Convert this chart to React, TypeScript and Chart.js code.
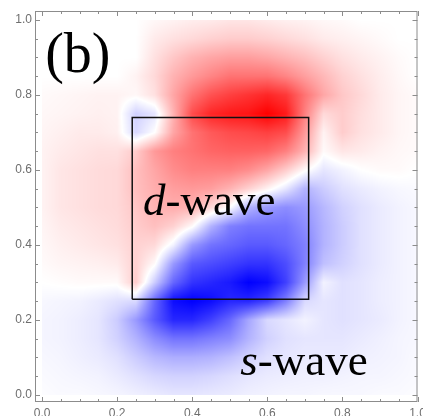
import React, { useEffect, useRef } from "react";
import { Chart, registerables } from "chart.js";

Chart.register(...registerables);

// grid coordinates of the density samples
const gridX = [0, 0.05, 0.1, 0.15, 0.2, 0.25, 0.3, 0.35, 0.4, 0.45, 0.5, 0.55, 0.6, 0.65, 0.7, 0.75, 0.8, 0.85, 0.9, 0.95, 1.0];
const gridY = [1.0, 0.95, 0.9, 0.85, 0.8, 0.75, 0.7, 0.65, 0.6, 0.55, 0.5, 0.45, 0.4, 0.35, 0.3, 0.25, 0.2, 0.15, 0.1, 0.05, 0.0];

// density values (+ red, - blue), rows from y = 1.0 down to y = 0.0
const row100 = [0, 0, 0, 0, 0, 0, 0.03, 0.05, 0.07, 0.08, 0.1, 0.1, 0.08, 0.06, 0.05, 0.03, 0.02, 0, 0, 0, 0];
const row095 = [0, 0, 0, 0, 0, 0, 0.08, 0.12, 0.15, 0.18, 0.2, 0.2, 0.18, 0.15, 0.12, 0.08, 0.06, 0.04, 0.02, 0, 0];
const row090 = [0, 0, 0, 0, 0, 0, 0.12, 0.22, 0.3, 0.35, 0.38, 0.38, 0.35, 0.3, 0.25, 0.18, 0.12, 0.08, 0.05, 0.02, 0];
const row085 = [0, 0, 0, 0, 0, 0.05, 0.15, 0.3, 0.4, 0.48, 0.55, 0.55, 0.55, 0.48, 0.38, 0.28, 0.18, 0.12, 0.07, 0.03, 0];
const row080 = [0.02, 0.03, 0.04, 0.05, 0.05, 0.03, 0.12, 0.35, 0.55, 0.68, 0.75, 0.8, 0.85, 0.78, 0.55, 0.35, 0.22, 0.15, 0.08, 0.04, 0.02];
const row075 = [0.03, 0.04, 0.05, 0.06, 0.05, -0.18, -0.1, 0.3, 0.7, 0.85, 0.9, 0.92, 1.0, 0.9, 0.5, 0.15, 0.2, 0.13, 0.08, 0.04, 0.02];
const row070 = [0.04, 0.06, 0.08, 0.08, 0.06, -0.15, 0.0, 0.35, 0.55, 0.65, 0.7, 0.72, 0.75, 0.7, 0.4, 0.05, 0.2, 0.12, 0.08, 0.04, 0.02];
const row065 = [0.05, 0.08, 0.1, 0.12, 0.12, 0.2, 0.4, 0.5, 0.55, 0.6, 0.62, 0.62, 0.6, 0.5, 0.3, 0.02, 0.1, 0.08, 0.05, 0.03, 0.02];
const row060 = [0.05, 0.1, 0.12, 0.14, 0.15, 0.25, 0.35, 0.45, 0.5, 0.5, 0.5, 0.45, 0.35, 0.2, 0.02, -0.1, -0.05, 0, 0.02, 0.02, 0];
const row055 = [0.05, 0.1, 0.12, 0.14, 0.15, 0.25, 0.32, 0.38, 0.4, 0.38, 0.3, 0.18, 0.05, -0.1, -0.3, -0.2, -0.12, -0.08, -0.05, -0.03, -0.02];
const row050 = [0.05, 0.1, 0.12, 0.14, 0.15, 0.22, 0.3, 0.32, 0.3, 0.15, 0.0, -0.3, -0.4, -0.45, -0.4, -0.28, -0.18, -0.12, -0.08, -0.05, -0.03];
const row045 = [0.04, 0.08, 0.1, 0.12, 0.14, 0.2, 0.25, 0.18, 0.02, -0.3, -0.5, -0.55, -0.55, -0.55, -0.45, -0.3, -0.2, -0.12, -0.08, -0.05, -0.03];
const row040 = [0.03, 0.06, 0.08, 0.1, 0.12, 0.18, 0.15, -0.05, -0.4, -0.55, -0.6, -0.65, -0.65, -0.6, -0.5, -0.3, -0.2, -0.12, -0.08, -0.05, -0.03];
const row035 = [0.02, 0.04, 0.05, 0.06, 0.08, 0.18, 0.02, -0.4, -0.65, -0.7, -0.75, -0.8, -0.8, -0.7, -0.5, -0.25, -0.18, -0.12, -0.08, -0.05, -0.03];
const row030 = [0, 0.01, 0.02, 0.02, 0.02, 0.2, -0.2, -0.6, -0.8, -0.85, -0.9, -1.0, -0.95, -0.75, -0.4, -0.05, -0.12, -0.1, -0.07, -0.05, -0.03];
const row025 = [-0.03, -0.04, -0.05, -0.08, -0.12, -0.15, -0.6, -0.95, -1.0, -0.95, -0.85, -0.85, -0.75, -0.5, -0.15, -0.1, -0.12, -0.1, -0.07, -0.05, -0.03];
const row020 = [-0.04, -0.05, -0.07, -0.1, -0.2, -0.4, -0.65, -0.85, -0.85, -0.75, -0.6, -0.35, -0.15, -0.1, -0.05, -0.1, -0.12, -0.1, -0.08, -0.05, -0.03];
const row015 = [-0.04, -0.05, -0.07, -0.1, -0.18, -0.3, -0.45, -0.55, -0.55, -0.5, -0.45, -0.3, -0.18, -0.12, -0.1, -0.1, -0.1, -0.08, -0.06, -0.04, -0.03];
const row010 = [-0.03, -0.04, -0.06, -0.08, -0.12, -0.2, -0.28, -0.32, -0.32, -0.3, -0.25, -0.18, -0.12, -0.1, -0.08, -0.08, -0.08, -0.06, -0.05, -0.04, -0.02];
const row005 = [-0.02, -0.03, -0.04, -0.05, -0.08, -0.12, -0.16, -0.18, -0.18, -0.16, -0.13, -0.1, -0.08, -0.07, -0.06, -0.06, -0.05, -0.04, -0.04, -0.03, -0.02];
const row000 = [-0.01, -0.02, -0.02, -0.03, -0.04, -0.06, -0.08, -0.1, -0.1, -0.09, -0.08, -0.06, -0.05, -0.04, -0.04, -0.03, -0.03, -0.03, -0.02, -0.02, -0.01];

const densityRows = [
  row100, row095, row090, row085, row080, row075, row070, row065, row060, row055, row050,
  row045, row040, row035, row030, row025, row020, row015, row010, row005, row000,
];

// axis ticks
const majorTicks = [0, 0.2, 0.4, 0.6, 0.8, 1.0];
const minorTicks = [0.05, 0.1, 0.15, 0.25, 0.3, 0.35, 0.45, 0.5, 0.55, 0.65, 0.7, 0.75, 0.85, 0.9, 0.95];

// d-wave box outline
const boxX = [0.24, 0.71, 0.71, 0.24, 0.24];
const boxY = [0.255, 0.255, 0.74, 0.74, 0.255];

const SERIF = "'Liberation Serif', 'Times New Roman', serif";
const SANS = "'Liberation Sans', Arial, sans-serif";

function sample(x: number, y: number): number {
  const nx = gridX.length;
  const ny = gridY.length;
  let i = 0;
  while (i < nx - 2 && x > gridX[i + 1]) i++;
  let j = 0;
  while (j < ny - 2 && y < gridY[j + 1]) j++;
  const tx = Math.min(1, Math.max(0, (x - gridX[i]) / (gridX[i + 1] - gridX[i])));
  const ty = Math.min(1, Math.max(0, (gridY[j] - y) / (gridY[j] - gridY[j + 1])));
  const a = densityRows[j][i];
  const b = densityRows[j][i + 1];
  const c = densityRows[j + 1][i];
  const d = densityRows[j + 1][i + 1];
  return a * (1 - tx) * (1 - ty) + b * tx * (1 - ty) + c * (1 - tx) * ty + d * tx * ty;
}

const heatmapPlugin = {
  id: "heatmap",
  beforeDatasetsDraw(chart: any) {
    const xs = chart.scales.x;
    const ys = chart.scales.y;
    const left = Math.round(xs.getPixelForValue(gridX[0]));
    const right = Math.round(xs.getPixelForValue(gridX[gridX.length - 1]));
    const top = Math.round(ys.getPixelForValue(gridY[0]));
    const bottom = Math.round(ys.getPixelForValue(gridY[gridY.length - 1]));
    const w = right - left;
    const h = bottom - top;
    if (w <= 0 || h <= 0) return;
    const off = document.createElement("canvas");
    off.width = w;
    off.height = h;
    const octx = off.getContext("2d")!;
    const img = octx.createImageData(w, h);
    for (let py = 0; py < h; py++) {
      const vy = ys.getValueForPixel(top + py + 0.5);
      for (let px = 0; px < w; px++) {
        const vx = xs.getValueForPixel(left + px + 0.5);
        let v = sample(vx, vy);
        v = Math.max(-1, Math.min(1, v));
        let r = 255, g = 255, b = 255;
        if (v >= 0) {
          g = b = 255 * (1 - v);
        } else {
          r = g = 255 * (1 + v);
        }
        const k = (py * w + px) * 4;
        img.data[k] = r;
        img.data[k + 1] = g;
        img.data[k + 2] = b;
        img.data[k + 3] = 255;
      }
    }
    octx.putImageData(img, 0, 0);
    chart.ctx.drawImage(off, left, top);
  },
};

const framePlugin = {
  id: "frame",
  afterDraw(chart: any) {
    const { ctx, chartArea } = chart;
    const xs = chart.scales.x;
    const ys = chart.scales.y;
    ctx.save();
    ctx.strokeStyle = "#8c8c8c";
    ctx.lineWidth = 1;
    ctx.strokeRect(chartArea.left + 0.5, chartArea.top + 0.5, chartArea.right - chartArea.left - 1, chartArea.bottom - chartArea.top - 1);
    const drawTicks = (vals: number[], len: number) => {
      ctx.beginPath();
      vals.forEach((v) => {
        const px = Math.round(xs.getPixelForValue(v)) + 0.5;
        ctx.moveTo(px, chartArea.bottom);
        ctx.lineTo(px, chartArea.bottom - len);
        ctx.moveTo(px, chartArea.top);
        ctx.lineTo(px, chartArea.top + len);
        const py = Math.round(ys.getPixelForValue(v)) + 0.5;
        ctx.moveTo(chartArea.left, py);
        ctx.lineTo(chartArea.left + len, py);
        ctx.moveTo(chartArea.right, py);
        ctx.lineTo(chartArea.right - len, py);
      });
      ctx.stroke();
    };
    drawTicks(majorTicks, 5);
    drawTicks(minorTicks, 3);
    ctx.restore();
  },
};

const textPlugin = {
  id: "texts",
  afterDatasetsDraw(chart: any) {
    const { ctx } = chart;
    const xs = chart.scales.x;
    const ys = chart.scales.y;
    ctx.save();
    ctx.fillStyle = "#000";
    ctx.textBaseline = "alphabetic";
    ctx.textAlign = "left";

    ctx.font = `56px ${SERIF}`;
    ctx.fillText("(b)", xs.getPixelForValue(0.008), ys.getPixelForValue(0.861));

    let x0 = xs.getPixelForValue(0.269);
    let y0 = ys.getPixelForValue(0.48);
    ctx.font = `italic 45px ${SERIF}`;
    ctx.fillText("d", x0, y0);
    x0 += ctx.measureText("d").width;
    ctx.font = `45px ${SERIF}`;
    ctx.fillText("-wave", x0, y0);

    x0 = xs.getPixelForValue(0.528);
    y0 = ys.getPixelForValue(0.053);
    ctx.font = `italic 45px ${SERIF}`;
    ctx.fillText("s", x0, y0);
    x0 += ctx.measureText("s").width;
    ctx.font = `45px ${SERIF}`;
    ctx.fillText("-wave", x0, y0);
    ctx.restore();
  },
};

export default function App() {
  const ref = useRef<HTMLCanvasElement>(null);
  useEffect(() => {
    document.body.style.margin = "0";
    const canvas = ref.current;
    if (!canvas) return;
    const chart = new Chart(canvas, {
      type: "scatter",
      data: {
        datasets: [
          {
            label: "d-wave region",
            data: boxX.map((x, i) => ({ x, y: boxY[i] })),
            showLine: true,
            borderColor: "#111",
            borderWidth: 1.5,
            pointRadius: 0,
            fill: false,
          },
        ],
      },
      options: {
        animation: false,
        responsive: false,
        devicePixelRatio: 1,
        layout: { padding: { top: 11, right: 5.5, left: 0, bottom: 0 } },
        plugins: { legend: { display: false }, tooltip: { enabled: false } },
        scales: {
          x: {
            type: "linear",
            min: -0.019,
            max: 1.0,
            afterBuildTicks: (s: any) => {
              s.ticks = majorTicks.map((v) => ({ value: v }));
            },
            afterFit: (s: any) => {
              s.height = 14;
              s.paddingLeft = 0;
              s.paddingRight = 0;
            },
            grid: { display: false, drawTicks: false },
            border: { display: false },
            ticks: {
              autoSkip: false,
              maxRotation: 0,
              padding: 4,
              color: "#6e6e6e",
              font: { family: SANS, size: 12 },
              callback: (v: any) => Number(v).toFixed(1),
            },
          },
          y: {
            type: "linear",
            min: -0.019,
            max: 1.024,
            afterBuildTicks: (s: any) => {
              s.ticks = majorTicks.map((v) => ({ value: v }));
            },
            afterFit: (s: any) => {
              s.width = 35;
              s.paddingTop = 0;
              s.paddingBottom = 0;
            },
            grid: { display: false, drawTicks: false },
            border: { display: false },
            ticks: {
              autoSkip: false,
              padding: 3,
              color: "#6e6e6e",
              font: { family: SANS, size: 12 },
              callback: (v: any) => Number(v).toFixed(1),
            },
          },
        },
      },
      plugins: [heatmapPlugin, textPlugin, framePlugin],
    });
    return () => chart.destroy();
  }, []);
  return (
    <div style={{ width: 423, height: 416 }}>
      <canvas ref={ref} width={423} height={416} style={{ display: "block" }} />
    </div>
  );
}
